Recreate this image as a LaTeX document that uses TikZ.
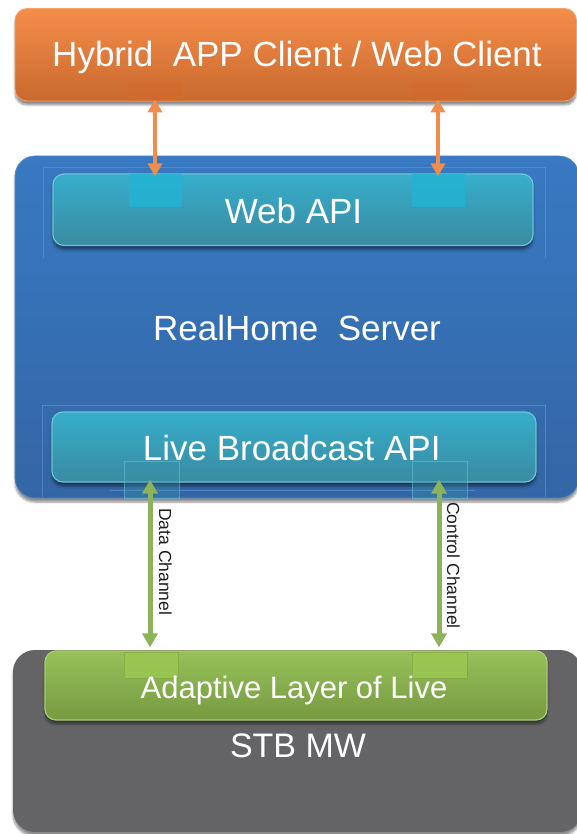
\documentclass[tikz,border=0pt]{standalone}
\usepackage{fontspec}
\setmainfont{Liberation Sans}
\usetikzlibrary{arrows.meta,shadows.blur}

\definecolor{orTop}{HTML}{F58D4A}
\definecolor{orBot}{HTML}{C9692E}
\definecolor{orEdge}{HTML}{F4A06A}
\definecolor{orPatch}{HTML}{D4692A}
\definecolor{blTop}{HTML}{3879C2}
\definecolor{blBot}{HTML}{3366A5}
\definecolor{blLine}{HTML}{5A92D2}
\definecolor{tlTop}{HTML}{36AECB}
\definecolor{tlBot}{HTML}{3A8BA1}
\definecolor{tlEdge}{HTML}{6CC3D6}
\definecolor{tlPatch}{HTML}{22B3D3}
\definecolor{grTop}{HTML}{97C15A}
\definecolor{grBot}{HTML}{769A40}
\definecolor{grEdge}{HTML}{A9CC70}
\definecolor{grPatch}{HTML}{9DC852}
\definecolor{stb}{HTML}{646466}
\definecolor{oArrow}{HTML}{F08C4E}
\definecolor{gArrow}{HTML}{8DB35A}
\definecolor{lbl}{HTML}{1E1E1E}

\begin{document}
\begin{tikzpicture}[x=1pt,y=-1pt,
  panel/.style={rectangle, inner sep=0pt,
    blur shadow={shadow xshift=0pt, shadow yshift=-4pt, shadow opacity=45, shadow blur steps=6}},
  clientbox/.style={panel, rounded corners=12pt, top color=orTop, bottom color=orBot, draw=orEdge, line width=0.8pt},
  serverbox/.style={panel, rounded corners=20pt, top color=blTop, bottom color=blBot, draw=blLine!70!blTop, line width=0.6pt},
  apibox/.style={panel, rounded corners=11pt, top color=tlTop, bottom color=tlBot, draw=tlEdge, line width=1.2pt},
  stbbox/.style={panel, rounded corners=22pt, fill=stb},
  livebox/.style={panel, rounded corners=11pt, top color=grTop, bottom color=grBot, draw=grEdge, line width=1.2pt},
  title/.style={anchor=base, inner sep=0pt, text=white, font=\fontsize{35}{40}\selectfont},
  chanlabel/.style={anchor=base west, inner sep=0pt, rotate=-90, text=lbl, font=\fontsize{17.5}{20}\selectfont},
  oarrow/.style={draw=oArrow, line width=4.5pt, {Triangle[width=14pt,length=13pt]}-{Triangle[width=14pt,length=13pt]}},
  garrow/.style={draw=gArrow, line width=5pt, {Triangle[width=15pt,length=14pt]}-{Triangle[width=15pt,length=14pt]}},
  guide/.style={draw=blLine, line width=0.5pt, opacity=0.7}
]
\useasboundingbox (0,0) rectangle (577,834);
\clip (0,0) rectangle (577,834);

% column positions of the connectors
\coordinate (oa1) at (155,0);
\coordinate (oa2) at (438,0);
\coordinate (ga1) at (150,0);
\coordinate (ga2) at (439,0);

% client tier
\node[clientbox, minimum width=561.5pt, minimum height=92.5pt] (client) at (295.75,54.75) {};
\fill[orPatch, opacity=0.5] (129,82) rectangle (182,101);
\fill[orPatch, opacity=0.5] (412,82) rectangle (465,101);
\node[title] (clienttext) at (297,66.5) {Hybrid\ \ APP Client / Web Client};

% server tier
\node[serverbox, minimum width=564pt, minimum height=342pt] (server) at (297,327) {};
\draw[guide] (43,258) -- (43,167) -- (545,167) -- (545,258);
\draw[guide] (42,497) -- (42,405) -- (545,405) -- (545,497);
\draw[guide] (110,490) -- (475,490);
\node[apibox, minimum width=480pt, minimum height=71.5pt] (webapi) at (293,209.75) {};
\fill[tlPatch, opacity=0.8] (129,174) rectangle (182,207);
\fill[tlPatch, opacity=0.8] (412,174) rectangle (465,207);
\node[title] (webapitext) at (293.5,223.5) {Web API};
\node[title] (servertext) at (297,340) {RealHome\ \ Server};
\node[apibox, minimum width=484pt, minimum height=70pt] (liveapi) at (294,447) {};
\draw[tlEdge, line width=0.4pt, draw opacity=0.5, fill=tlBot!85!tlTop, fill opacity=0.35] (124,461) rectangle (179,498);
\draw[tlEdge, line width=0.4pt, draw opacity=0.5, fill=tlBot!85!tlTop, fill opacity=0.35] (412,461) rectangle (467,498);
\node[title] (liveapitext) at (291.7,460.7) {Live Broadcast API};

% set-top box tier
\node[stbbox, minimum width=569pt, minimum height=182pt] (stb) at (297.5,741) {};
\node[livebox, minimum width=502pt, minimum height=69pt] (adaptive) at (296,685.5) {};
\draw[grBot!80!grTop, line width=0.4pt, draw opacity=0.6, fill=grPatch, fill opacity=0.8] (124,652) rectangle (178,678);
\draw[grBot!80!grTop, line width=0.4pt, draw opacity=0.6, fill=grPatch, fill opacity=0.8] (412,652) rectangle (467,678);
\node[title, font=\fontsize{31}{36}\selectfont] (adaptivetext) at (294,698) {Adaptive Layer of Live};
\node[title, font=\fontsize{34}{40}\selectfont] (stbtext) at (298,757) {STB MW};

% connectors
\draw[oarrow, shorten <=-2pt, shorten >=-3pt] (client.south -| oa1) -- (webapi.north -| oa1);
\draw[oarrow, shorten <=-2pt, shorten >=-3pt] (client.south -| oa2) -- (webapi.north -| oa2);
\draw[garrow, shorten <=-3pt, shorten >=3pt] (liveapi.south -| ga1) -- (adaptive.north -| ga1);
\draw[garrow, shorten <=-3pt, shorten >=3pt] (liveapi.south -| ga2) -- (adaptive.north -| ga2);
\node[chanlabel] (datalabel) at (159,508) {Data Channel};
\node[chanlabel] (ctrllabel) at (447,502) {Control Channel};
\end{tikzpicture}
\end{document}
